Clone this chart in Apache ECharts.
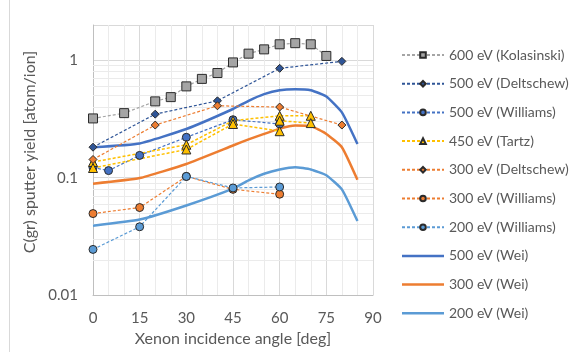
<!DOCTYPE html>
<html><head><meta charset="utf-8">
<script src="https://cdn.jsdelivr.net/npm/echarts@6/dist/echarts.min.js"></script>
<style>html,body{margin:0;padding:0;background:#fff}#c{width:569px;height:352px}</style>
</head><body><div id="c"></div>
<script>
// ---- data ----
const kolaX = [0,10,20,25,30,35,40,45,50,55,60,65,70,75];
const kolaY = [0.32,0.355,0.447,0.486,0.60,0.695,0.78,0.96,1.14,1.24,1.37,1.40,1.37,1.09];
const delt500X = [0,20,40,60,80];
const delt500Y = [0.182,0.348,0.452,0.855,0.98];
const will500X = [0,5,15,30,45,60];
const will500Y = [0.122,0.115,0.155,0.221,0.312,0.287];
const tartzAX = [0,30,45,60,70];
const tartzAY = [0.136,0.191,0.306,0.337,0.337];
const tartzBX = [0,30,45,60,60,70];
const tartzBY = [0.121,0.174,0.287,0.249,0.306,0.292];
const delt300X = [0,20,40,60,80];
const delt300Y = [0.143,0.281,0.41,0.40,0.281];
const will300X = [0,15,30,45,60];
const will300Y = [0.0495,0.0557,0.1026,0.0796,0.0724];
const will200X = [0,15,30,45,60];
const will200Y = [0.0245,0.0382,0.1026,0.0818,0.0834];
const weiX = [0,15,30,45,50,55,60,65,70,75,80,85];
const wei500Y = [0.182,0.196,0.26,0.385,0.452,0.515,0.557,0.568,0.557,0.492,0.36,0.194];
const wei300Y = [0.089,0.0994,0.131,0.188,0.212,0.236,0.262,0.278,0.275,0.236,0.182,0.096];
const wei200Y = [0.039,0.044,0.058,0.0807,0.095,0.108,0.1175,0.123,0.1175,0.105,0.0796,0.0427];
const xTicks = [0,15,30,45,60,75,90];
const yMinorLines = [0.02,0.03,0.04,0.05,0.06,0.07,0.08,0.09,0.2,0.3,0.4,0.5,0.6,0.7,0.8,0.9];

const zip = (xs, ys) => xs.map((x, i) => [x, ys[i]]);
const FONT = 'Lato';
const TXT = '#595959';

function dashed(name, xs, ys, color, symbol, size, fill, lw) {
  return {
    name, type: 'line', data: zip(xs, ys), symbol, symbolSize: size,
    lineStyle: {color, width: lw || 1.2, type: [3, 2]},
    itemStyle: {color: fill, borderColor: '#2b2b2b', borderWidth: 1},
    emphasis: {disabled: true}, z: 4
  };
}
function solid(name, ys, color) {
  return {
    name, type: 'line', data: zip(weiX, ys), symbol: 'none', smooth: 0.15,
    lineStyle: {color, width: 2.5}, itemStyle: {color},
    emphasis: {disabled: true}, z: 3
  };
}

const series = [
  dashed('600 eV (Kolasinski)', kolaX, kolaY, '#a5a5a5', 'rect', 9, '#a5a5a5'),
  dashed('500 eV (Deltschew)', delt500X, delt500Y, '#2f5597', 'diamond', 8, '#2f5597'),
  dashed('500 eV (Williams)', will500X, will500Y, '#4472c4', 'circle', 8, '#4472c4'),
  dashed('450 eV (Tartz)', tartzAX, tartzAY, '#ffc000', 'triangle', 9, '#ffc000', 1.5),
  dashed('450 eV (Tartz)', tartzBX, tartzBY, '#ffc000', 'triangle', 9, '#ffc000', 1.5),
  dashed('300 eV (Deltschew)', delt300X, delt300Y, '#ed7d31', 'diamond', 8, '#ed7d31'),
  dashed('300 eV (Williams)', will300X, will300Y, '#ed7d31', 'circle', 8, '#ed7d31'),
  dashed('200 eV (Williams)', will200X, will200Y, '#5b9bd5', 'circle', 8, '#5b9bd5'),
  solid('500 eV (Wei)', wei500Y, '#4472c4'),
  solid('300 eV (Wei)', wei300Y, '#ed7d31'),
  solid('200 eV (Wei)', wei200Y, '#5b9bd5'),
  {
    name: 'minor-grid', type: 'line', data: [], z: 1, silent: true,
    markLine: {
      silent: true, symbol: 'none', label: {show: false}, z: 1, animation: false,
      lineStyle: {color: '#ebebeb', width: 1, type: 'solid'},
      emphasis: {disabled: true},
      data: yMinorLines.map(v => ({yAxis: v}))
    }
  }
];

const lineIcon = 'path://M0,0 L42,0 L42,2.5 L0,2.5 Z';
const chart = echarts.init(document.getElementById('c'), null, {renderer: 'canvas'});
chart.setOption({
  animation: false,
  textStyle: {fontFamily: FONT},
  grid: {left: 93, right: 196, top: 25, bottom: 55},
  legend: {
    orient: 'vertical', left: 396, top: 43,
    itemWidth: 42, itemHeight: 7, itemGap: 14.7,
    textStyle: {color: TXT, fontSize: 14, fontFamily: FONT, lineHeight: 14},
    data: ['600 eV (Kolasinski)','500 eV (Deltschew)','500 eV (Williams)','450 eV (Tartz)',
           '300 eV (Deltschew)','300 eV (Williams)','200 eV (Williams)',
           {name: '500 eV (Wei)', icon: lineIcon}, {name: '300 eV (Wei)', icon: lineIcon}, {name: '200 eV (Wei)', icon: lineIcon}]
  },
  xAxis: {
    type: 'value', min: xTicks[0], max: xTicks[xTicks.length - 1], interval: 15,
    name: 'Xenon incidence angle [deg]', nameLocation: 'middle', nameGap: 34,
    nameTextStyle: {color: TXT, fontSize: 16, fontFamily: FONT},
    axisLine: {lineStyle: {color: '#bfbfbf'}}, axisTick: {show: false},
    axisLabel: {color: TXT, fontSize: 15, margin: 16, fontFamily: FONT},
    splitLine: {lineStyle: {color: '#d9d9d9'}},
    minorTick: {show: false, splitNumber: 3},
    minorSplitLine: {show: true, lineStyle: {color: '#ebebeb'}}
  },
  yAxis: {
    type: 'log', logBase: 10, min: 0.01, max: 2,
    name: 'C(gr) sputter yield [atom/ion]', nameLocation: 'middle', nameGap: 55,
    nameTextStyle: {color: TXT, fontSize: 16, fontFamily: FONT, padding: [0, 0, 0, 16]},
    axisLine: {show: true, lineStyle: {color: '#bfbfbf'}}, axisTick: {show: false},
    axisLabel: {color: TXT, fontSize: 15, margin: 15, fontFamily: FONT,
      formatter: v => { const l = Math.log10(v); return Math.abs(l - Math.round(l)) < 1e-6 ? String(+v.toPrecision(3)) : ''; }},
    splitLine: {lineStyle: {color: '#d9d9d9'}}
  },
  graphic: [{type: 'line', shape: {x1: 9.5, y1: 0, x2: 9.5, y2: 352}, style: {stroke: '#d9d9d9', lineWidth: 1}}],
  series
});
</script></body></html>
